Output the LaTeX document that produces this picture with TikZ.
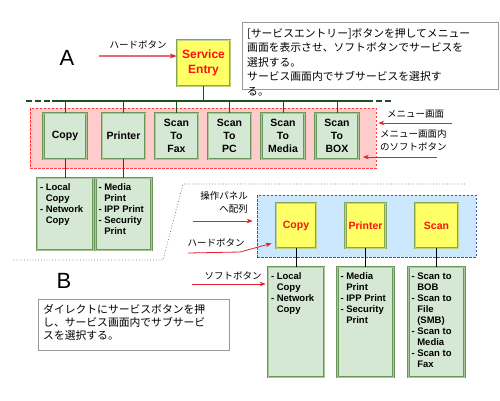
\documentclass[tikz,border=0pt]{standalone}
\usepackage{fontspec}
\setmainfont{Liberation Sans}
\newfontfamily\jp{Noto Sans CJK JP}
\usetikzlibrary{arrows.meta}
\definecolor{gfill}{HTML}{D5E8D4}
\definecolor{gborder}{HTML}{6A955B}
\definecolor{gdouble}{HTML}{A9C99B}
\definecolor{yfill}{HTML}{FFFF66}
\definecolor{yborder}{HTML}{86A556}
\definecolor{ydouble}{HTML}{BCD38A}
\definecolor{pinkfill}{HTML}{FFCCCC}
\definecolor{pinkline}{HTML}{FF3B3B}
\definecolor{bluefill}{HTML}{CCE8FF}
\definecolor{blueline}{HTML}{3A55C0}
\definecolor{busgreen}{HTML}{1E4D1E}
\definecolor{arrowred}{HTML}{E0202A}
\definecolor{arrowpink}{HTML}{E86A78}
\definecolor{txtred}{HTML}{FF1010}
\newcommand\boxlines[2]{\begin{minipage}[t][#1][t]{50pt}\vspace*{3pt}\raggedright #2\end{minipage}}
\begin{document}
\begin{tikzpicture}[x=1pt,y=-1pt,
 gbox/.style={draw=gborder,fill=gfill,line width=0.7pt,double=gdouble,double distance=0.8pt,inner sep=0pt,align=center,font=\bfseries\fontsize{10.5}{13.3}\selectfont},
 ybox/.style={draw=yborder,fill=yfill,line width=0.7pt,double=ydouble,double distance=0.8pt,inner sep=0pt,align=center,text=txtred,font=\bfseries\fontsize{10.5}{14}\selectfont},
 subbox/.style={gbox,font=\bfseries\fontsize{9.5}{11}\selectfont,minimum width=56,align=left},
 region/.style={line width=0.6pt,dash pattern=on 2.5pt off 1.5pt,inner sep=0pt},
 lbl/.style={font=\jp\fontsize{9.5}{13}\selectfont,inner sep=0pt},
 note/.style={font=\jp\fontsize{10.8}{14.5}\selectfont,inner sep=0pt,align=left,anchor=north west},
 redarrow/.style={draw=arrowred,line width=0.8pt,-{Stealth[length=6pt,width=4.5pt]}},
 conn/.style={line width=1.3pt,draw=busgreen},
 bconn/.style={line width=0.9pt,draw=black},
 sepline/.style={draw=gray,dotted,line width=0.8pt},
 big/.style={font=\fontsize{22}{22}\selectfont,inner sep=0pt}
]
\useasboundingbox[fill=white] (0,0) rectangle (500,400);

% regions
\node[region,draw=pinkline,fill=pinkfill,minimum width=346,minimum height=60] (menu) at (203,138) {};
\node[region,draw=blueline,fill=bluefill,minimum width=219,minimum height=62] (panel) at (366.5,226) {};

% ---------- A ----------
\node[big] (A) at (67,58) {A};
\node[ybox,minimum width=53,minimum height=46,font=\bfseries\fontsize{12}{15}\selectfont] (se) at (203.5,63) {Service\\Entry};
\draw[draw=gray!80,line width=0.6pt] (242,22) rectangle (498,89);
\node[note] (noteA) at (247,28) {[サービスエントリー]ボタンを押してメニュー\\画面を表示させ、ソフトボタンでサービスを\\選択する。\\サービス画面内でサブサービスを選択す\\る。};

\node[lbl] (lhb) at (138,45) {ハードボタン};
\coordinate (ah) at (99,56);
\draw[draw=arrowpink,line width=1.5pt,-{Stealth[length=7pt,width=5pt,color=arrowred]}] (ah) -- (ah -| se.west);

% bus
\coordinate (busL) at (26,101);
\coordinate (busL2) at (52,101);
\coordinate (busR2) at (367,101);
\coordinate (busR) at (392,101);
\draw[conn,dash pattern=on 6pt off 3pt] (busL) -- (busL2);
\draw[conn] (busL2) -- (busR2);
\draw[conn,dash pattern=on 6pt off 3pt] (busR2) -- (busR);
\draw[conn] (se.south) -- (se.south |- busL);

% menu boxes
\node[gbox,minimum width=43,minimum height=46] (m1) at (65,136) {Copy};
\node[gbox,minimum width=43,minimum height=46] (m2) at (123.5,136) {Printer};
\node[gbox,minimum width=43,minimum height=46] (m3) at (176.5,136) {Scan\\To\\Fax};
\node[gbox,minimum width=43,minimum height=46] (m4) at (229.5,136) {Scan\\To\\PC};
\node[gbox,minimum width=43,minimum height=46] (m5) at (283,136) {Scan\\To\\Media};
\node[gbox,minimum width=43,minimum height=46] (m6) at (337,136) {Scan\\To\\BOX};
\foreach \m in {m1,m2,m3,m4,m5,m6}{\draw[conn,line width=1pt] (\m.north) -- (\m.north |- busL);}

% sub boxes A
\node[subbox,minimum height=72] (s1) at (65,214) {\boxlines{66pt}{- Local\\\phantom{- }Copy\\- Network\\\phantom{- }Copy}};
\node[subbox,minimum height=72] (s2) at (123.5,214) {\boxlines{66pt}{- Media\\\phantom{- }Print\\- IPP Print\\- Security\\\phantom{- }Print}};
\draw[conn,line width=1pt] (m1.south) -- (s1.north);
\draw[conn,line width=1pt] (m2.south) -- (s2.north);

% right labels
\node[lbl,anchor=west] (lm) at (387,114) {メニュー画面};
\coordinate (am1) at (452,123);
\draw[redarrow] (am1) -- ([xshift=2pt]am1 -| menu.east);
\node[lbl,align=left,anchor=north west] (lsoft) at (380,129) {メニュー画面内\\のソフトボタン};
\coordinate (am2) at (437,157);
\draw[redarrow] (am2) -- ([xshift=4pt]am2 -| m6.east);

% separator
\coordinate (d1) at (13,260);
\coordinate (d2) at (163,260);
\coordinate (d3) at (183,184);
\coordinate (d4) at (465,184);
\draw[sepline] (d1) -- (d2) -- (d3) -- (d4);

% ---------- B ----------
\node[big] (B) at (64,281) {B};
\node[ybox,minimum width=40,minimum height=45] (y1) at (296,225.5) {Copy};
\node[ybox,minimum width=40,minimum height=45] (y2) at (365.5,225.5) {Printer};
\node[ybox,minimum width=43,minimum height=45] (y3) at (436.5,225.5) {Scan};

\node[subbox,minimum height=110] (t1) at (296,322) {\boxlines{104pt}{- Local\\\phantom{- }Copy\\- Network\\\phantom{- }Copy}};
\node[subbox,minimum height=110] (t2) at (365.5,322) {\boxlines{104pt}{- Media\\\phantom{- }Print\\- IPP Print\\- Security\\\phantom{- }Print}};
\node[subbox,minimum height=110] (t3) at (436.5,322) {\boxlines{104pt}{- Scan to\\\phantom{- }BOB\\- Scan to\\\phantom{- }File\\\phantom{- }(SMB)\\- Scan to\\\phantom{- }Media\\- Scan to\\\phantom{- }Fax}};
\draw[bconn] (y1.south) -- (t1.north);
\draw[bconn] (y2.south) -- (t2.north);
\draw[bconn] (y3.south) -- (t3.north);

\node[lbl,align=right,anchor=north east] (lop) at (248,191) {操作パネル\\へ配列};
\coordinate (ao) at (193,221);
\draw[redarrow] (ao) -- ([xshift=-4pt]ao -| panel.west);
\node[lbl] (lhb2) at (216,243) {ハードボタン};
\coordinate (ah2) at (188,253);
\coordinate (ah2b) at (240,252);
\draw[redarrow] (ah2) -- (ah2b) -- ([xshift=-4pt,yshift=5pt]y1.south west);
\node[lbl] (lsb) at (233,276) {ソフトボタン};
\coordinate (as) at (192,284);
\draw[redarrow] (as) -- ([xshift=-2pt]as -| t1.west);

\draw[draw=gray!80,line width=0.6pt] (38,299) rectangle (229,350);
\node[note,font=\jp\fontsize{10.8}{13}\selectfont] (noteB) at (43,304) {ダイレクトにサービスボタンを押\\し、サービス画面内でサブサービ\\スを選択する。};
\end{tikzpicture}
\end{document}
